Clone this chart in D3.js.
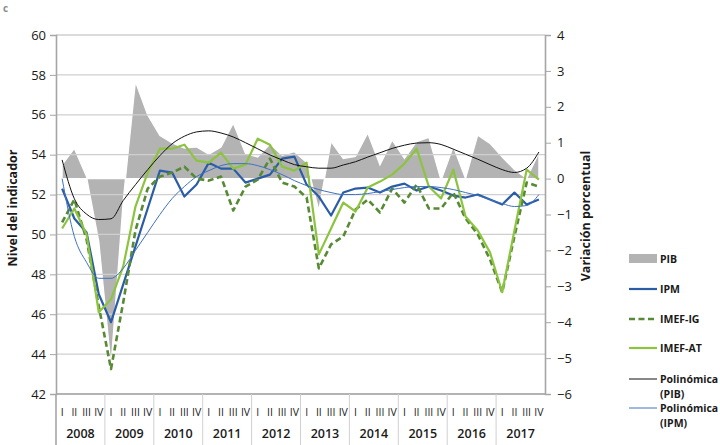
<!DOCTYPE html>
<html>
<head>
<meta charset="UTF-8" />
<title>Nivel del indicador y variación porcentual del PIB</title>
<script src="https://d3js.org/d3.v7.min.js"></script>
<style>
    body { margin: 0; background: white; }
    svg text { font-family: "Open Sans", "Noto Sans", sans-serif; fill: #1a1a1a; }
    .axis text { font-size: 13px; }
    .legend text { font-size: 10.5px; font-weight: bold; }
</style>
</head>
<body>
<svg width="720" height="445"></svg>
<script>
// years and quarters on the category axis
var years = ["2008", "2009", "2010", "2011", "2012", "2013", "2014", "2015", "2016", "2017"];
var quarters = ["I", "II", "III", "IV"];

// PIB, variación porcentual (eje derecho)
var pib = [0.38, 0.84, 0.05, -1.75, -5.2, -0.6, 2.7, 1.77, 1.2, 0.99,
    0.85, 0.88, 0.68, 0.88, 1.54, 0.7, 0.6, 0.96, 0.65, 0.75,
    0.45, -0.88, 1.03, 0.56, 0.62, 1.27, 0.38, 1.07, 0.56, 1.03,
    1.15, -0.05, 0.89, 0.0, 1.21, 0.98, 0.6, 0.25, 0.0, 0.72];

// indicadores (eje izquierdo)
var ipm = [52.3, 50.8, 50.1, 47.0, 45.6, 47.5, 49.4, 51.3, 53.2, 53.1,
    51.9, 52.5, 53.6, 53.3, 53.3, 52.6, 52.8, 53.0, 53.8, 53.9,
    52.5, 51.9, 50.95, 52.1, 52.3, 52.35, 52.1, 52.4, 52.55, 52.2,
    52.4, 52.2, 51.95, 51.85, 52.0, 51.75, 51.5, 52.1, 51.5, 51.75];
var imefIG = [50.6, 51.75, 49.75, 46.4, 43.25, 46.6, 50.2, 52.3, 52.9, 53.1,
    53.4, 52.8, 52.7, 52.9, 51.2, 52.4, 52.75, 53.8, 52.6, 52.4,
    51.85, 48.3, 49.5, 49.9, 51.25, 51.75, 51.1, 52.3, 51.6, 52.5,
    51.3, 51.3, 52.1, 50.8, 50.0, 48.75, 47.1, 49.9, 52.6, 52.4];
var imefAT = [50.3, 51.3, 50.0, 46.1, 46.75, 48.4, 51.4, 53.1, 54.3, 54.3,
    54.5, 53.7, 53.6, 54.1, 53.3, 53.5, 54.8, 54.5, 53.4, 53.2,
    53.6, 49.0, 50.3, 51.6, 51.15, 52.35, 52.65, 53.0, 53.55, 54.3,
    52.4, 51.8, 53.25, 50.9, 50.2, 49.1, 47.1, 50.2, 53.25, 52.75];

// líneas de tendencia polinómica
var polyPib = [0.52, -0.56, -0.99, -1.14, -1.12, -0.61, -0.17, 0.25, 0.64, 0.97,
    1.18, 1.30, 1.33, 1.27, 1.16, 1.0, 0.83, 0.66, 0.52, 0.39,
    0.33, 0.29, 0.29, 0.38, 0.47, 0.60, 0.72, 0.84, 0.93, 0.99,
    1.0, 0.95, 0.82, 0.68, 0.54, 0.39, 0.25, 0.17, 0.29, 0.74];
var polyIpm = [52.8, 49.9, 48.6, 47.8, 47.8, 48.3, 49.2, 50.1, 51.0, 51.8,
    52.4, 52.9, 53.2, 53.45, 53.55, 53.55, 53.45, 53.25, 53.0, 52.7,
    52.45, 52.25, 52.1, 52.0, 52.0, 52.05, 52.15, 52.25, 52.35, 52.4,
    52.4, 52.35, 52.25, 52.1, 51.95, 51.75, 51.55, 51.4, 51.45, 52.0];

var leftTicks = d3.range(42, 61, 2);
var rightTicks = d3.range(-6, 5, 1);

var svg = d3.select("svg");
var plotLeft = 56, plotRight = 545, plotTop = 35, plotBottom = 394;

var n = years.length * quarters.length;
var x = d3.scaleBand().domain(d3.range(n)).range([plotLeft, plotRight]);
var cx = function (i) { return x(i) + x.bandwidth() / 2; };
var yL = d3.scaleLinear().domain([42, 60]).range([plotBottom, plotTop]);
var yR = d3.scaleLinear().domain([-6, 4]).range([plotBottom, plotTop]);

// "c" panel letter
svg.append("text").attr("x", 3).attr("y", 12)
    .style("font-size", "10px").style("font-weight", "bold").style("fill", "#8c8c8c")
    .text("c");

// PIB area
var area = d3.area()
    .x(function (d, i) { return cx(i); })
    .y0(yR(0))
    .y1(function (d) { return yR(d); });

svg.append("path").datum(pib)
    .attr("d", area)
    .attr("fill", "#b3b3b3")
    .attr("stroke", "white")
    .attr("stroke-width", 1.2);

// gridlines
svg.append("g").selectAll("line").data(leftTicks).enter().append("line")
    .attr("x1", plotLeft).attr("x2", plotRight)
    .attr("y1", function (d) { return yL(d); })
    .attr("y2", function (d) { return yL(d); })
    .attr("stroke", "#cfcfcf")
    .attr("stroke-width", 1.3);

// series lines
function drawLine(values, scale, color, width, dash, curve) {
    var line = d3.line()
        .x(function (d, i) { return cx(i); })
        .y(function (d) { return scale(d); });
    if (curve) line.curve(curve);
    svg.append("path").datum(values)
        .attr("d", line)
        .attr("fill", "none")
        .attr("stroke", color)
        .attr("stroke-width", width)
        .attr("stroke-dasharray", dash)
        .attr("stroke-linejoin", "round");
}

drawLine(ipm, yL, "#2b5ca6", 2.2, null);
drawLine(imefIG, yL, "#578a34", 2.6, "6,3.5");
drawLine(imefAT, yL, "#8cc43f", 2.2, null);
drawLine(polyPib, yR, "#111111", 1, null, d3.curveMonotoneX);
drawLine(polyIpm, yL, "#3f72bf", 1, null, d3.curveMonotoneX);

// left axis
var gL = svg.append("g").attr("class", "axis")
    .attr("transform", "translate(" + plotLeft + ",0)")
    .call(d3.axisLeft(yL).tickValues(leftTicks).tickSize(6).tickPadding(4));
gL.select(".domain").attr("stroke", "#a6a6a6").attr("stroke-width", 1.6);
gL.selectAll(".tick line").attr("stroke", "#a6a6a6");

// right axis
var gR = svg.append("g").attr("class", "axis")
    .attr("transform", "translate(" + plotRight + ",0)")
    .call(d3.axisRight(yR).tickValues(rightTicks).tickSize(6).tickPadding(6));
gR.select(".domain").attr("stroke", "#a6a6a6").attr("stroke-width", 1.6);
gR.selectAll(".tick line").attr("stroke", "#a6a6a6");

// bottom axis line
svg.append("line")
    .attr("x1", plotLeft).attr("x2", plotRight)
    .attr("y1", plotBottom).attr("y2", plotBottom)
    .attr("stroke", "#a6a6a6").attr("stroke-width", 1.6);

// year separators
svg.append("g").selectAll("line").data(years).enter().append("line")
    .attr("x1", function (d, i) { return x(i * 4); })
    .attr("x2", function (d, i) { return x(i * 4); })
    .attr("y1", plotBottom)
    .attr("y2", 445)
    .attr("stroke", function (d, i) { return i == 0 ? "#a6a6a6" : "#d0d0d0"; })
    .attr("stroke-width", function (d, i) { return i == 0 ? 1.6 : 1; });

// quarter labels
svg.append("g").selectAll("text").data(d3.range(n)).enter().append("text")
    .attr("x", function (d) { return cx(d); })
    .attr("y", 416)
    .attr("text-anchor", "middle")
    .style("font-size", "10.5px")
    .text(function (d) { return quarters[d % 4]; });

// year labels
svg.append("g").selectAll("text").data(years).enter().append("text")
    .attr("x", function (d, i) { return x(i * 4) + x.bandwidth() * 2; })
    .attr("y", 438)
    .attr("text-anchor", "middle")
    .style("font-size", "12.5px")
    .style("font-weight", "600")
    .text(function (d) { return d; });

// axis titles
svg.append("text")
    .attr("transform", "translate(17,208) rotate(-90)")
    .attr("text-anchor", "middle")
    .style("font-size", "12.5px").style("font-weight", "bold")
    .text("Nivel del indicador");
svg.append("text")
    .attr("transform", "translate(590,216) rotate(-90)")
    .attr("text-anchor", "middle")
    .style("font-size", "12.5px").style("font-weight", "bold")
    .text("Variación porcentual");

// legend
var legend = svg.append("g").attr("class", "legend");
legend.append("rect").attr("x", 629).attr("y", 254).attr("width", 28).attr("height", 9)
    .attr("fill", "#b3b3b3");
var items = [
    { y: 289, color: "#2b5ca6", width: 2.2, dash: null, label: ["IPM"] },
    { y: 319, color: "#578a34", width: 2.6, dash: "6,3.5", label: ["IMEF-IG"] },
    { y: 348, color: "#8cc43f", width: 2.2, dash: null, label: ["IMEF-AT"] },
    { y: 379, color: "#111111", width: 1, dash: null, label: ["Polinómica", "(PIB)"] },
    { y: 408, color: "#3f72bf", width: 1, dash: null, label: ["Polinómica", "(IPM)"] }
];
legend.append("text").attr("x", 660).attr("y", 263).text("PIB");
items.forEach(function (d) {
    legend.append("line")
        .attr("x1", 629).attr("x2", 657)
        .attr("y1", d.y).attr("y2", d.y)
        .attr("stroke", d.color)
        .attr("stroke-width", d.width)
        .attr("stroke-dasharray", d.dash);
    d.label.forEach(function (t, k) {
        legend.append("text").attr("x", 660).attr("y", d.y + 4 + k * 15).text(t);
    });
});
</script>
</body>
</html>
